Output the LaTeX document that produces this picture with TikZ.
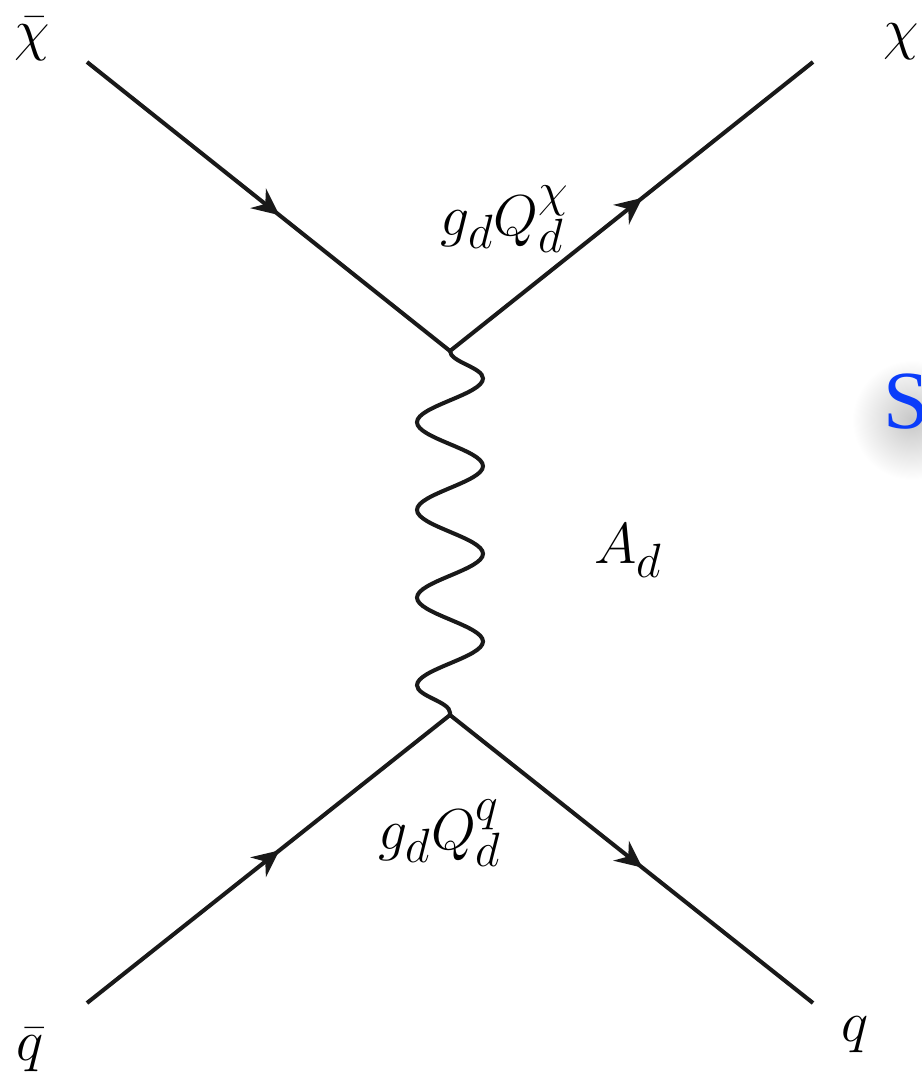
\documentclass[tikz,border=0pt]{standalone}
\usepackage{fontspec}
\newfontfamily\slidefont{Liberation Serif}
\usetikzlibrary{arrows.meta,decorations.pathmorphing,decorations.markings}
\definecolor{sblue}{RGB}{10,60,250}
\tikzset{
  fermion/.style={line width=2.3pt,draw=black!90,postaction={decorate},
                  decoration={markings,mark=at position 0.53 with
                  {\arrow{Stealth[length=5.4mm,width=5mm,inset=1.8mm]}}}},
  photon/.style ={line width=2.3pt,draw=black!90,decorate,
                  decoration={snake,segment length=1.754cm,amplitude=0.66cm}},
  lbl/.style    ={font=\Huge,inner sep=0pt,scale=1.32,transform shape},
}

\begin{document}
\begin{tikzpicture}[x=0.02cm,y=-0.02cm]
\useasboundingbox (0,0) rectangle (922,1080);
\clip (0,0) rectangle (922,1080);
% vertices and external legs
\coordinate (vtop) at (450,351);
\coordinate (vbot) at (450,715);
\coordinate (chibarin) at (87,62);
\coordinate (chiout) at (813,62);
\coordinate (qbarin) at (87,1003);
\coordinate (qout) at (813,1003);
\draw[fermion] (chibarin) -- (vtop);
\draw[fermion] (vtop) -- (chiout);
\draw[fermion] (qbarin) -- (vbot);
\draw[fermion] (vbot) -- (qout);
\draw[photon] (vtop) -- (vbot);
% labels
\node[lbl] (chibar) at (32,39) {$\bar\chi$};
\node[lbl] (chi) at (901,42) {$\chi$};
\node[lbl] (qbar) at (30,1050) {$\bar q$};
\node[lbl] (q) at (855,1035) {$q$};
\node[lbl] (cplchi) at (505,219) {$g_dQ_d^\chi$};
\node[lbl] (cplq) at (440,833) {$g_dQ_d^q$};
\node[lbl] (med) at (628,551) {$A_d$};
% slide text cut at the edge
\shade[inner color=black!22,outer color=white] (912,420) circle (60);
\node[font=\slidefont\fontsize{47}{56}\selectfont,text=sblue,inner sep=0pt] (stitle) at (906,402) {S};
\end{tikzpicture}
\end{document}
